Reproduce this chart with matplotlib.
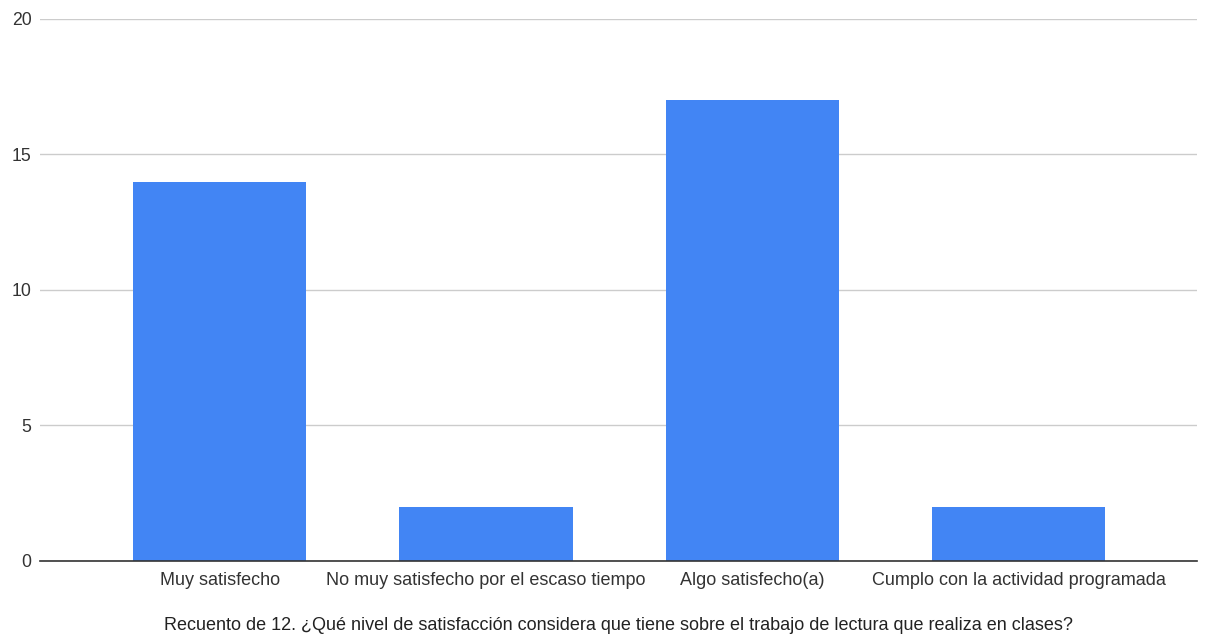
import matplotlib.pyplot as plt

plt.rcParams['font.family'] = ['Liberation Sans', 'DejaVu Sans']

categorias = ['Muy satisfecho', 'No muy satisfecho por el escaso tiempo',
              'Algo satisfecho(a)', 'Cumplo con la actividad programada']
recuento = [14, 2, 17, 2]
yticks = [0, 5, 10, 15, 20]

fig = plt.figure(figsize=(12.08, 6.39), dpi=100)
ax = fig.add_axes([0.0331, 0.1221, 0.9578, 0.8482])

x = range(len(categorias))
ax.bar(x, recuento, width=0.65, color='#4285F4', zorder=3)

ax.set_xlim(-0.675, 3.67)
ax.set_ylim(0, 20)
ax.set_yticks(yticks)
ax.set_xticks(list(x))
ax.set_xticklabels(categorias, fontsize=13, color='#333333')
ax.tick_params(axis='y', labelsize=12.7, labelcolor='#333333', length=0, pad=6)
ax.tick_params(axis='x', length=0, pad=8)
ax.grid(axis='y', color='#cccccc', linewidth=1, zorder=0)
for s in ['top', 'right', 'left']:
    ax.spines[s].set_visible(False)
ax.spines['bottom'].set_color('#333333')
ax.spines['bottom'].set_linewidth(1.2)
ax.spines['bottom'].set_zorder(4)

ax.set_xlabel('Recuento de 12. ¿Qué nivel de satisfacción considera que tiene sobre el trabajo de lectura que realiza en clases?',
              fontsize=13, color='#222222')
ax.xaxis.set_label_coords(0.5, -0.104)

fig.savefig('out.png', dpi=100, facecolor='white')
